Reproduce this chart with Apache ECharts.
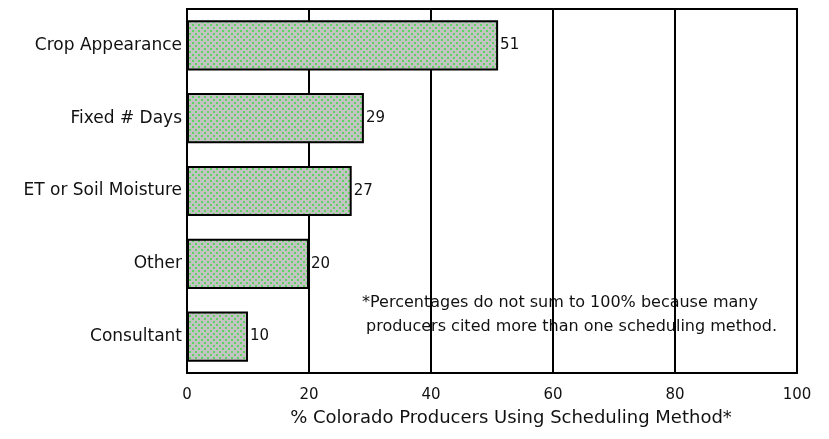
<!DOCTYPE html>
<html>
<head>
<meta charset="utf-8">
<script src="https://cdn.jsdelivr.net/npm/echarts@6/dist/echarts.min.js"></script>
<style>
  html, body { margin: 0; padding: 0; background: #fff; }
  #chart { width: 829px; height: 439px; }
</style>
</head>
<body>
<div id="chart"></div>
<script>
// data
var categories = ["Crop Appearance", "Fixed # Days", "ET or Soil Moisture", "Other", "Consultant"];
var values = [51, 29, 27, 20, 10];
var xTicks = [0, 20, 40, 60, 80, 100];
var axisTitle = "% Colorado Producers Using Scheduling Method*";
var noteLines = [
  "*Percentages do not sum to 100% because many",
  "producers cited more than one scheduling method."
];

// dotted fill for the bars (gray with staggered green dots)
var tile = document.createElement("canvas");
tile.width = 6;
tile.height = 6;
var tc = tile.getContext("2d");
tc.fillStyle = "#c3c3c3";
tc.fillRect(0, 0, 6, 6);
tc.fillStyle = "#5fd35f";
tc.fillRect(0, 0, 2, 2);
tc.fillRect(3, 3, 2, 2);

var font = "DejaVu Sans";
var chart = echarts.init(document.getElementById("chart"));

var option = {
  backgroundColor: "#fff",
  animation: false,
  grid: {
    left: 187,
    right: 32,
    top: 9,
    bottom: 66,
    show: true,
    borderColor: "#000",
    borderWidth: 2,
    containLabel: false,
  },
  xAxis: {
    type: "value",
    min: xTicks[0],
    max: xTicks[xTicks.length - 1],
    interval: 20,
    name: axisTitle,
    nameLocation: "middle",
    nameGap: 36,
    nameTextStyle: { color: "#111", fontFamily: font, fontSize: 18, padding: [0, 0, 0, 38] },
    axisLine: { show: true, lineStyle: { color: "#000", width: 2 } },
    axisTick: { show: false },
    axisLabel: { color: "#111", fontFamily: font, fontSize: 15, margin: 15 },
    splitLine: { show: true, lineStyle: { color: "#000", width: 2 } },
  },
  yAxis: {
    type: "category",
    data: categories,
    inverse: true,
    axisLine: { show: true, lineStyle: { color: "#000", width: 2 } },
    axisTick: { show: false },
    axisLabel: { color: "#111", fontFamily: font, fontSize: 17, margin: 5 },
    splitLine: { show: false },
  },
  series: [
    {
      type: "bar",
      data: values,
      barCategoryGap: "31%",
      itemStyle: {
        color: { image: tile, repeat: "repeat" },
        borderColor: "#000",
        borderWidth: 2,
      },
      label: {
        show: true,
        position: "right",
        distance: 2,
        color: "#111",
        fontFamily: font,
        fontSize: 15,
      },
    },
  ],
  graphic: [
    {
      type: "text",
      left: 362,
      top: 295,
      style: { text: noteLines[0], fill: "#111", font: "16px " + font },
    },
    {
      type: "text",
      left: 366,
      top: 319,
      style: { text: noteLines[1], fill: "#111", font: "16px " + font },
    },
  ],
};

chart.setOption(option);
window.addEventListener("resize", function () {
  chart.resize();
});
</script>
</body>
</html>
